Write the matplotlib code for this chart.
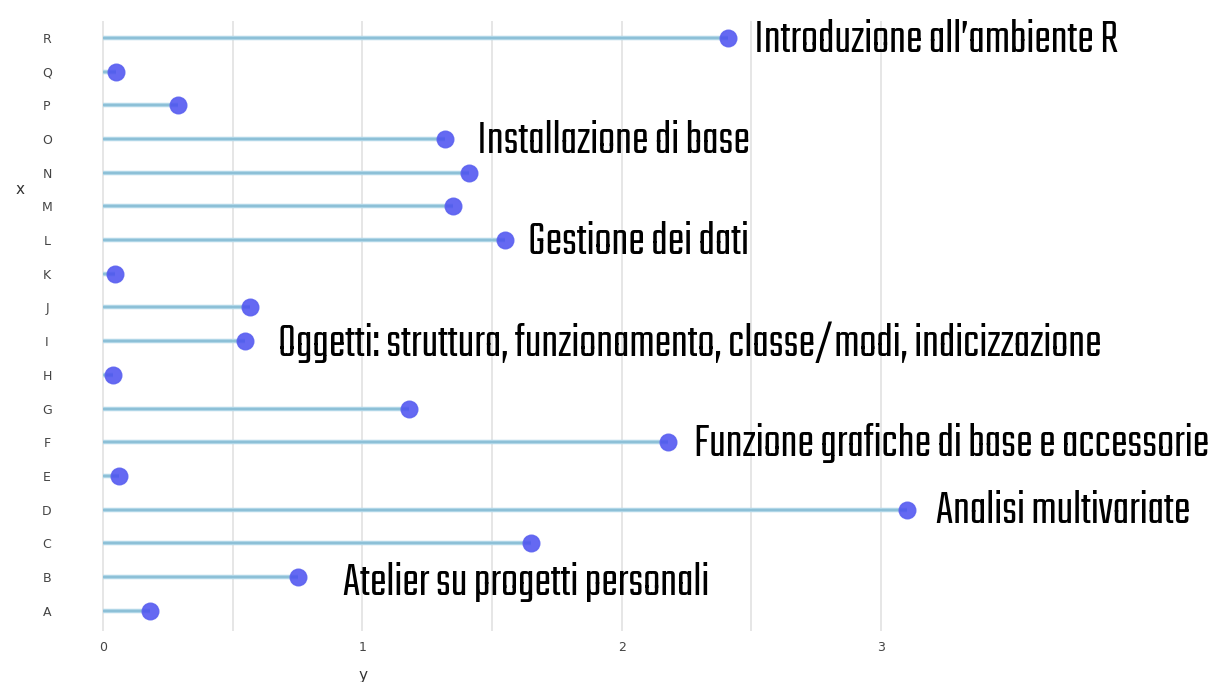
import matplotlib.pyplot as plt
from matplotlib import font_manager as fm
import numpy as np

# data
categories = ["A", "B", "C", "D", "E", "F", "G", "H", "I",
              "J", "K", "L", "M", "N", "O", "P", "Q", "R"]
values = [0.18, 0.75, 1.65, 3.10, 0.06, 2.18, 1.18, 0.04, 0.546,
          0.565, 0.046, 1.55, 1.35, 1.41, 1.32, 0.29, 0.05, 2.41]

# annotation texts, keyed by category
notes = {
    "R": "Introduzione all\u2019ambiente R",
    "O": "Installazione di base",
    "L": "Gestione dei dati",
    "I": "Oggetti: struttura, funzionamento, classe/modi, indicizzazione",
    "F": "Funzione grafiche di base e accessorie",
    "D": "Analisi multivariate",
    "B": "Atelier su progetti personali",
}
# left edge of each annotation, in data units
note_x = {"R": 2.51, "O": 1.44, "L": 1.64, "I": 0.675, "F": 2.28, "D": 3.21, "B": 0.925}

W, H = 1218, 682
fig = plt.figure(figsize=(W / 100, H / 100), dpi=100)
# axes placed in pixels: left 90, right 959, top 21, bottom 631
ax = fig.add_axes([90 / W, (H - 631) / H, (959 - 90) / W, (631 - 21) / H])

ypos = np.arange(len(categories))
ax.hlines(ypos, 0, values, color="#b0d6e7", linewidth=3.2, zorder=2)
ax.hlines(ypos, 0, values, color="#86bcd4", linewidth=1.2, zorder=2)
ax.plot(values, ypos, "o", markersize=12, color="#4a4ff0",
        markeredgecolor="#5a60f0", alpha=0.85, zorder=3)

ax.set_xlim(-0.05, 3.3)
ax.set_ylim(-0.6, len(categories) - 0.5)
ax.set_yticks(ypos)
ax.set_yticklabels(categories)
ax.set_xticks([0, 1, 2, 3])
ax.set_xticks(np.arange(0, 3.01, 0.5), minor=True)
ax.grid(axis="x", which="both", color="#e2e2e2", linewidth=1.2, zorder=0)
ax.grid(axis="y", visible=False)
for s in ax.spines.values():
    s.set_visible(False)
ax.tick_params(axis="both", which="both", length=0, colors="#444444", labelsize=9)
for lab in ax.get_yticklabels():
    lab.set_horizontalalignment("center")
ax.tick_params(axis="y", pad=31)
ax.tick_params(axis="x", pad=7)

ax.set_xlabel("y", fontsize=11, color="#333333")
ax.set_ylabel("x", fontsize=11, color="#333333", rotation=0, va="center")
ax.xaxis.set_label_coords((363 - 90) / (959 - 90), -(668 - 631) / (631 - 21))
ax.yaxis.set_label_coords(-(90 - 20) / (959 - 90), (631 - 190) / (631 - 21))

have = set(f.name for f in fm.fontManager.ttflist)
if "Teko" in have:
    note_font, note_size = ["Teko", "DejaVu Sans"], 36
else:
    note_font, note_size = ["DejaVu Sans"], 19
for cat, txt in notes.items():
    i = categories.index(cat)
    dy = -0.05 if cat == "B" else 0.08
    ax.text(note_x[cat], i + dy, txt, fontsize=note_size, family=note_font,
            weight="light", va="center_baseline", ha="left", color="black",
            clip_on=False)

fig.savefig("out.png", dpi=100)
